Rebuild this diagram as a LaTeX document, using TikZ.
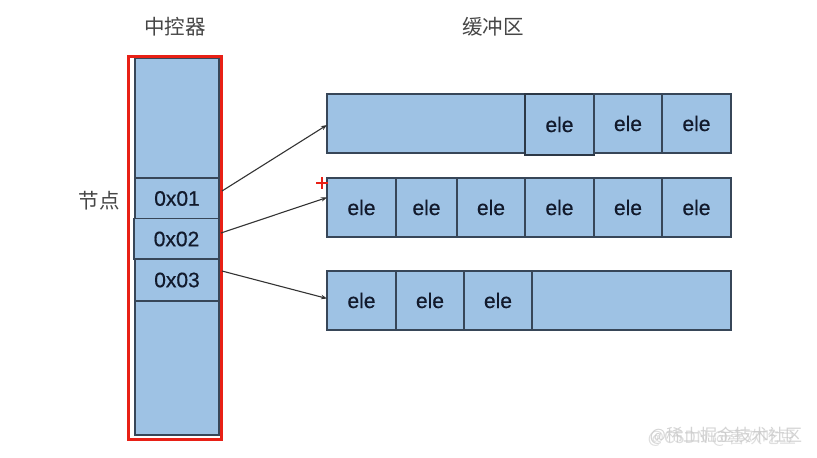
\documentclass[tikz,border=0pt]{standalone}
\usepackage{fontspec}
\newfontfamily\arial[FakeBold=0.6]{Liberation Sans}
\newfontfamily\cjk{Noto Sans CJK SC}
\usetikzlibrary{arrows.meta}
\definecolor{cellc}{RGB}{158,194,228}
\definecolor{edgec}{RGB}{55,70,88}
\definecolor{txtc}{RGB}{18,26,44}
\definecolor{redc}{RGB}{232,32,22}
\definecolor{titlec}{RGB}{70,70,70}
\definecolor{wmc}{RGB}{200,200,200}
\tikzset{
 box/.style={draw=edgec, fill=cellc, line width=1.1pt, inner sep=0pt, outer sep=0pt},
 cell/.style={box, minimum height=59pt, font=\arial\fontsize{21}{23}\selectfont, text=txtc},
 addr/.style={box, minimum width=84pt, minimum height=41pt, font=\arial\fontsize{21}{23}\selectfont, text=txtc},
 title/.style={font=\cjk\fontsize{20.5}{23}\selectfont, text=titlec},
 link/.style={draw=black!80, line width=1.1pt, -{Stealth[length=6pt,width=4.5pt]}},
 wm/.style={font=\cjk\fontsize{17}{20}\selectfont, text=wmc},
}
\begin{document}
\begin{tikzpicture}[x=1pt,y=-1pt]
\useasboundingbox (0,0) rectangle (817,458);
% titles
\node[title] (t1) at (175,27) {中控器};
\node[title] (t2) at (493,27) {缓冲区};
\node[title] (t3) at (99,201) {节点};
% controller column
\node[box, minimum width=84pt, minimum height=377pt] (col) at (177,246.5) {};
\node[addr] (c01) at (177,198.5) {0x01};
\node[addr, minimum width=85pt] (c02) at (176.5,239) {0x02};
\node[addr, minimum height=42pt] (c03) at (177,280) {0x03};
\node[draw=redc, line width=3pt, inner sep=0pt, minimum width=92.5pt, minimum height=383pt] (frame) at (174.75,248) {};
% row 1
\node[box, minimum width=404pt, minimum height=59pt] (row1) at (529,123.5) {};
\node[cell, minimum width=69pt, minimum height=61pt, line width=1.5pt, draw=edgec!80!black] (r1a) at (559.5,124.5) {ele};
\node[cell, minimum width=68pt] (r1b) at (628,123.5) {ele};
\node[cell, minimum width=69pt] (r1c) at (696.5,123.5) {ele};
% row 2
\node[box, minimum width=404pt, minimum height=59pt] (row2) at (529,207.5) {};
\node[cell, minimum width=69pt] (r2a) at (361.5,207.5) {ele};
\node[cell, minimum width=61pt] (r2b) at (426.5,207.5) {ele};
\node[cell, minimum width=68pt] (r2c) at (491,207.5) {ele};
\node[cell, minimum width=69pt] (r2d) at (559.5,207.5) {ele};
\node[cell, minimum width=68pt] (r2e) at (628,207.5) {ele};
\node[cell, minimum width=69pt] (r2f) at (696.5,207.5) {ele};
% row 3
\node[box, minimum width=404pt, minimum height=59pt] (row3) at (529,300.5) {};
\node[cell, minimum width=69pt] (r3a) at (361.5,300.5) {ele};
\node[cell, minimum width=68pt] (r3b) at (430,300.5) {ele};
\node[cell, minimum width=68pt] (r3c) at (498,300.5) {ele};
% links
\draw[link] ([xshift=3pt,yshift=7.5pt]c01.east) -- ([yshift=-1.5pt]row1.west);
\draw[link] ([xshift=2pt,yshift=6pt]c02.east) -- ([yshift=10pt]row2.west);
\draw[link] ([xshift=3pt,yshift=9pt]c03.east) -- ([yshift=2pt]row3.west);
% red plus
\coordinate (plus) at (322,183);
\draw[redc, line width=2.2pt] ([xshift=-6pt]plus) -- ([xshift=6pt]plus) ([yshift=6pt]plus) -- ([yshift=-6pt]plus);
% watermark
\node[wm, opacity=0.8] (wm1) at (726,436) {@稀土掘金技术社区};
\node[wm, opacity=0.6] (wm2) at (722,438) {@CSDN @喜欢吃豆};
\end{tikzpicture}
\end{document}
